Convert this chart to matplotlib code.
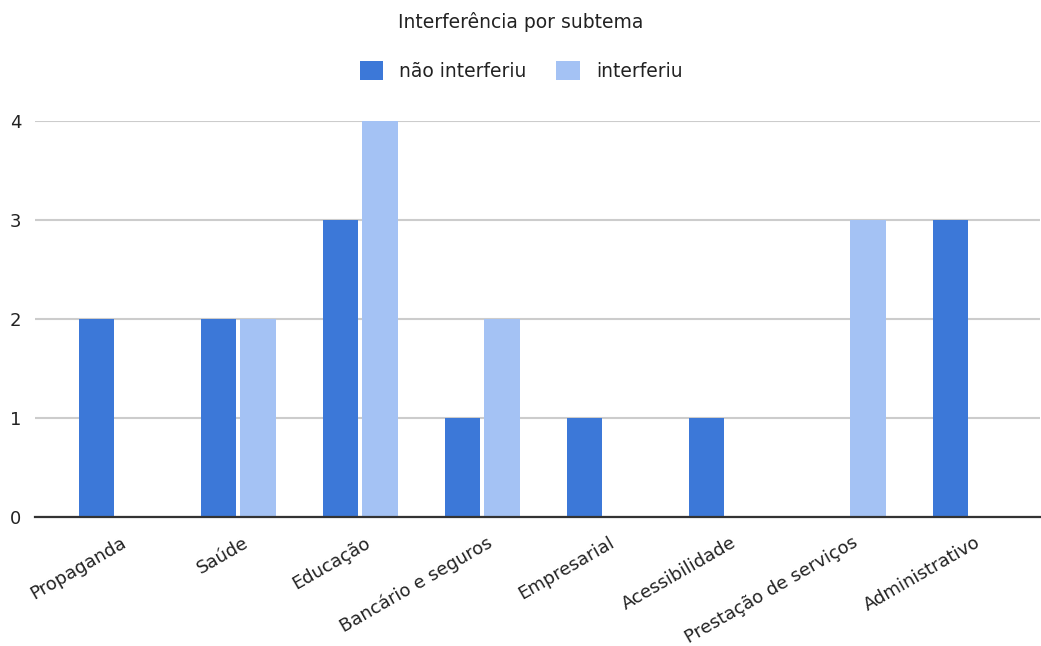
import matplotlib
matplotlib.use("Agg")
from matplotlib import pyplot as plt
from matplotlib import transforms
import numpy as np

categories = ["Propaganda", "Saúde", "Educação", "Bancário e seguros",
              "Empresarial", "Acessibilidade", "Prestação de serviços", "Administrativo"]
nao_interferiu = [2, 2, 3, 1, 1, 1, 0, 3]
interferiu = [0, 2, 4, 2, 0, 0, 3, 0]
series_labels = ["não interferiu", "interferiu"]
yticks = [0, 1, 2, 3, 4]

dark = "#3c78d8"
light = "#a4c2f4"

plt.rcParams['font.family'] = ['DejaVu Sans']

W, H = 1041, 646
fig = plt.figure(figsize=(W / 100, H / 100), dpi=100)
ax = fig.add_axes([35 / W, (H - 517) / H, (1040 - 35) / W, (517 - 121) / H])

x = np.arange(len(categories))
width = 0.291
off = 0.162
ax.bar(x - off, nao_interferiu, width, color=dark, label=series_labels[0], zorder=3)
ax.bar(x + off, interferiu, width, color=light, label=series_labels[1], zorder=3)

ax.set_xlim(-0.666, 7.57)
ax.set_ylim(0, 4)
ax.set_yticks(yticks)
ax.set_yticklabels([str(v) for v in yticks], fontsize=13, color="#222222")
ax.grid(axis="y", color="#cccccc", linewidth=1.5, zorder=0)
ax.set_axisbelow(True)

ax.set_xticks(x)
ax.set_xticklabels(categories, fontsize=13, rotation=30, ha="right",
                   rotation_mode="anchor", va="top", color="#222222")
ax.tick_params(axis="x", length=0, pad=12)
ax.tick_params(axis="y", length=0, pad=10)
shift = transforms.ScaledTranslation(4 / 100, 0, fig.dpi_scale_trans)
for lbl in ax.get_xticklabels():
    lbl.set_transform(lbl.get_transform() + shift)

for s in ["top", "right", "left"]:
    ax.spines[s].set_visible(False)
ax.spines["bottom"].set_color("#333333")
ax.spines["bottom"].set_linewidth(1.6)
ax.spines["bottom"].set_zorder(4)

fig.text(521 / W, 1 - 22 / H, "Interferência por subtema", ha="center", va="center",
         fontsize=13.5, color="#222222")

fig.legend(loc="center", bbox_to_anchor=(521 / W, 1 - 71 / H), ncol=2, frameon=False,
           fontsize=13.5, handlelength=1.25, handleheight=1.15, handletextpad=0.85,
           columnspacing=1.6, labelcolor="#222222")

fig.savefig("out.png", dpi=100)
